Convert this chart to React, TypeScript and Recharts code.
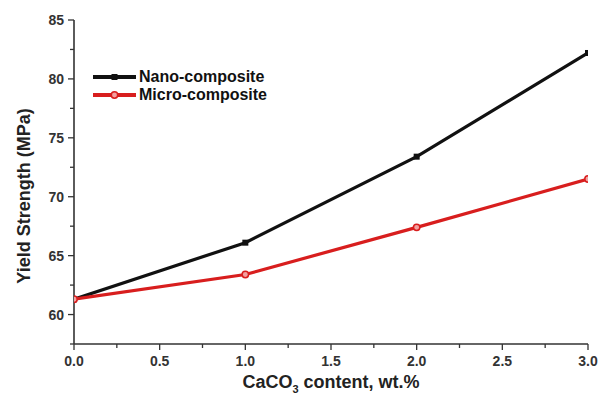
import React from "react";
import { LineChart, Line, XAxis, YAxis } from "recharts";

const contents = [0, 1, 2, 3];
const nanoComposite = [61.3, 66.1, 73.4, 82.2];
const microComposite = [61.3, 63.4, 67.4, 71.5];
const xTicks = [0, 0.25, 0.5, 0.75, 1, 1.25, 1.5, 1.75, 2, 2.25, 2.5, 2.75, 3];
const yTicks = [57.5, 60, 62.5, 65, 67.5, 70, 72.5, 75, 77.5, 80, 82.5, 85];

const data = contents.map((c, i) => ({ x: c, nano: nanoComposite[i], micro: microComposite[i] }));

const FONT = "'Liberation Sans', Arial, sans-serif";
const AXIS = "#333";

const XTick = (props: any) => {
  const { x, y, payload } = props;
  const v = payload.value as number;
  const major = Math.abs(v * 2 - Math.round(v * 2)) < 1e-6;
  return (
    <g>
      <line x1={x} y1={y} x2={x} y2={y + (major ? 6 : 4)} stroke={AXIS} strokeWidth={1.3} />
      {major && (
        <text x={x} y={y + 22} textAnchor="middle" fontFamily={FONT} fontSize={14} fontWeight={700} fill="#333">
          {v.toFixed(1)}
        </text>
      )}
    </g>
  );
};

const YTick = (props: any) => {
  const { x, y, payload } = props;
  const v = payload.value as number;
  const major = Math.abs(v / 5 - Math.round(v / 5)) < 1e-6;
  return (
    <g>
      <line x1={x - (major ? 6 : 4)} y1={y} x2={x} y2={y} stroke={AXIS} strokeWidth={1.3} />
      {major && (
        <text x={x - 10} y={y + 5} textAnchor="end" fontFamily={FONT} fontSize={14} fontWeight={700} fill="#333">
          {v}
        </text>
      )}
    </g>
  );
};

const SquareDot = (props: any) => {
  const { cx, cy } = props;
  if (cx == null || cy == null) return null;
  return <rect x={cx - 3} y={cy - 3} width={6} height={6} fill="#111" />;
};
const CircleDot = (props: any) => {
  const { cx, cy } = props;
  if (cx == null || cy == null) return null;
  return <circle cx={cx} cy={cy} r={3.2} fill="#f3a0a0" stroke="#d81e1e" strokeWidth={1.5} />;
};

const XTitle = (props: any) => {
  const vb = props.viewBox || {};
  const cx = vb.x + vb.width / 2;
  return (
    <text x={cx} y={vb.y + 44} textAnchor="middle" fontFamily={FONT} fontSize={18} fontWeight={700} fill="#222">
      <tspan>CaCO</tspan>
      <tspan fontSize={11} dy={5}>3</tspan>
      <tspan dy={-5}> content, wt.%</tspan>
    </text>
  );
};

const YTitle = () => {
  const cx = 30;
  const cy = 196;
  return (
    <text
      x={cx}
      y={cy}
      transform={`rotate(-90 ${cx} ${cy})`}
      textAnchor="middle"
      fontFamily={FONT}
      fontSize={18}
      fontWeight={700}
      fill="#222"
    >
      Yield Strength (MPa)
    </text>
  );
};

const legendItems = [
  { label: "Nano-composite", color: "#111", marker: "square" },
  { label: "Micro-composite", color: "#d81e1e", marker: "circle" },
];

export default function App() {
  return (
    <div style={{ position: "absolute", left: 0, top: 0, width: 599, height: 396, background: "#fff" }}>
      <LineChart width={599} height={396} data={data} margin={{ top: 20, right: 11, left: 30, bottom: 12 }}>
        <XAxis
          dataKey="x"
          type="number"
          domain={[0, 3]}
          ticks={xTicks}
          tick={<XTick />}
          tickLine={false}
          tickSize={0}
          tickMargin={0}
          stroke={AXIS}
          strokeWidth={1.6}
          height={40}
          interval={0}
          allowDataOverflow
          label={<XTitle />}
        />
        <YAxis
          type="number"
          domain={[57.5, 85]}
          ticks={yTicks}
          tick={<YTick />}
          tickLine={false}
          tickSize={0}
          tickMargin={0}
          stroke={AXIS}
          strokeWidth={1.6}
          width={44}
          interval={0}
          allowDataOverflow
          label={<YTitle />}
        />
        <Line
          type="linear"
          dataKey="nano"
          stroke="#111"
          strokeWidth={3.2}
          dot={<SquareDot />}
          isAnimationActive={false}
        />
        <Line
          type="linear"
          dataKey="micro"
          stroke="#d81e1e"
          strokeWidth={3.2}
          dot={<CircleDot />}
          isAnimationActive={false}
        />
      </LineChart>
      <div
        style={{
          position: "absolute",
          left: 93,
          top: 68,
          fontFamily: FONT,
          fontSize: 16,
          fontWeight: 700,
          color: "#111",
          lineHeight: "18px",
        }}
      >
        {legendItems.map((it) => (
          <div key={it.label} style={{ display: "flex", alignItems: "center" }}>
            <svg width={43} height={12}>
              <line x1={0} y1={6} x2={43} y2={6} stroke={it.color} strokeWidth={3.8} />
              {it.marker === "square" ? (
                <rect x={18.5} y={3} width={6} height={6} fill="#111" />
              ) : (
                <circle cx={21.5} cy={6} r={3.2} fill="#f3a0a0" stroke="#d81e1e" strokeWidth={1.5} />
              )}
            </svg>
            <span style={{ marginLeft: 3 }}>{it.label}</span>
          </div>
        ))}
      </div>
    </div>
  );
}
